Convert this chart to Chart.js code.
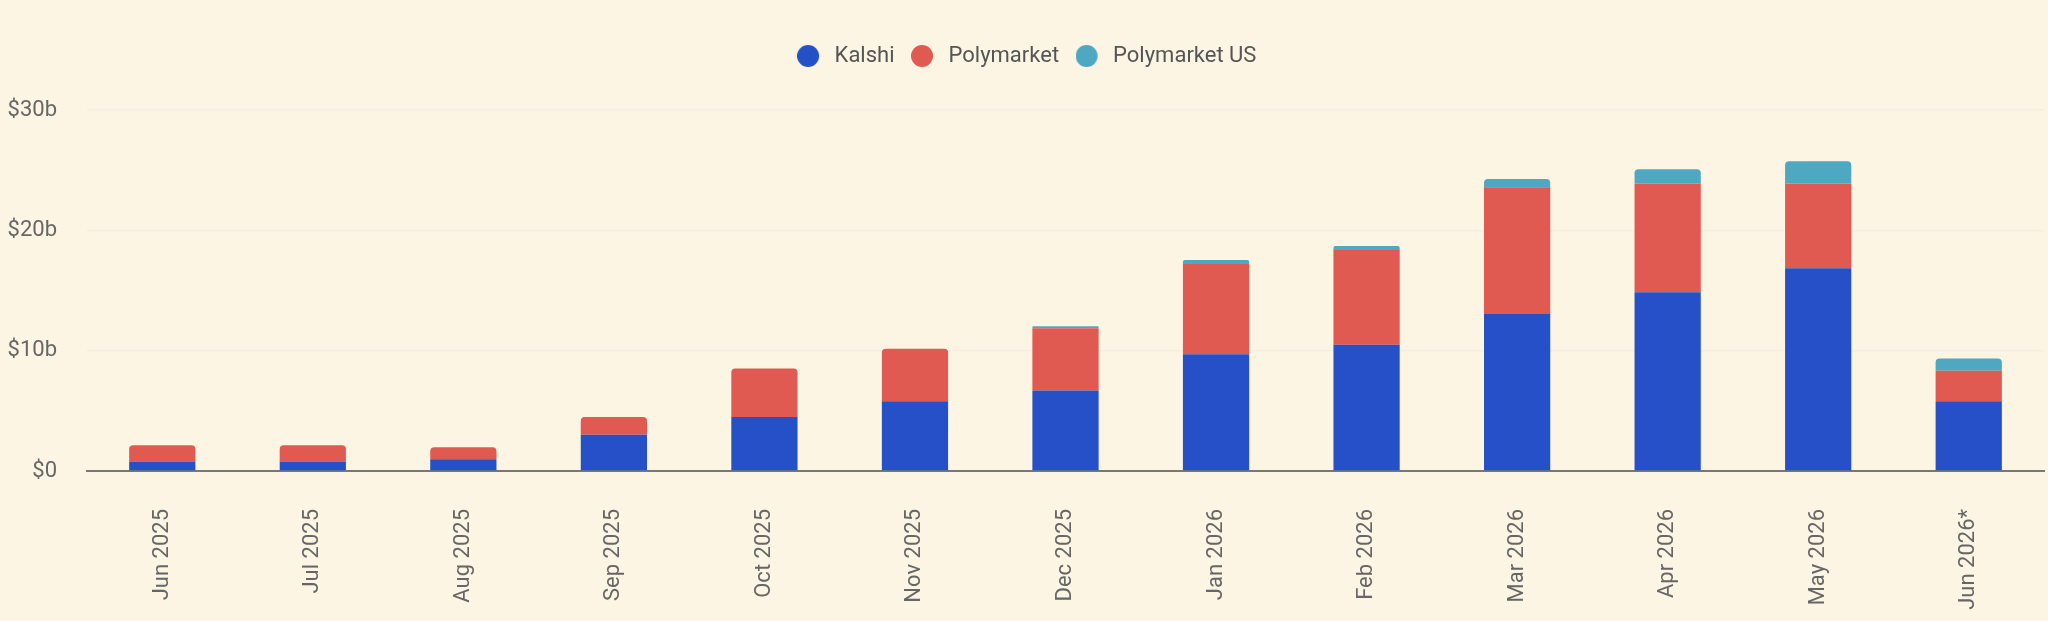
<!DOCTYPE html>
<html>
<head>
<meta charset="utf-8">
<script src="https://cdn.jsdelivr.net/npm/chart.js@4/dist/chart.umd.min.js"></script>
<style>
    html, body { margin: 0; padding: 0; background: #fcf5e4; }
    #wrap { width: 2048px; height: 621px; }
</style>
</head>
<body>
<div id="wrap"><canvas id="volumeChart" width="2048" height="621"></canvas></div>
<script>
// monthly volume, $ billions
const months = ['Jun 2025', 'Jul 2025', 'Aug 2025', 'Sep 2025', 'Oct 2025', 'Nov 2025', 'Dec 2025',
    'Jan 2026', 'Feb 2026', 'Mar 2026', 'Apr 2026', 'May 2026', 'Jun 2026*'];
const kalshi = [0.79, 0.79, 0.98, 3.02, 4.49, 5.8, 6.69, 9.7, 10.49, 13.05, 14.85, 16.85, 5.8];
const polymarket = [1.34, 1.34, 0.99, 1.47, 4.03, 4.36, 5.18, 7.51, 7.87, 10.52, 9.05, 7.05, 2.53];
const polymarketUS = [0, 0, 0, 0, 0, 0, 0.16, 0.33, 0.33, 0.69, 1.18, 1.84, 1.01];
const yTicks = [0, 10, 20, 30];

const colors = ['#2550c7', '#e05a52', '#4ea8c2'];

// legend dot drawn a bit left of its box, so the text sits further away
function legendDot(color) {
    const c = document.createElement('canvas');
    c.width = 31;
    c.height = 24;
    const g = c.getContext('2d');
    g.fillStyle = color;
    g.beginPath();
    g.arc(11, 12, 11, 0, Math.PI * 2);
    g.fill();
    return c;
}
const dots = colors.map(legendDot);

// push the plot down below the legend, nudge legend right a little
const legendTweak = {
    id: 'legendTweak',
    beforeInit(chart) {
        const lg = chart.legend;
        const fit = lg.fit;
        lg.fit = function () {
            fit.bind(lg)();
            this.height += 33;
        };
        const draw = lg.draw;
        lg.draw = function () {
            const ctx = chart.ctx;
            ctx.save();
            ctx.translate(7, 0);
            draw.apply(lg, arguments);
            ctx.restore();
        };
    }
};

Chart.defaults.font.family = 'Roboto, "Noto Sans", sans-serif';
Chart.defaults.font.size = 22;
Chart.defaults.color = '#666';

const barStyle = {
    borderRadius: 4,
    borderSkipped: 'start',
    borderWidth: 0,
    barPercentage: 0.44,
    categoryPercentage: 1
};

new Chart(document.getElementById('volumeChart'), {
    type: 'bar',
    data: {
        labels: months,
        datasets: [
            { label: 'Kalshi', data: kalshi, backgroundColor: colors[0], ...barStyle },
            { label: 'Polymarket', data: polymarket, backgroundColor: colors[1], ...barStyle },
            { label: 'Polymarket US', data: polymarketUS, backgroundColor: colors[2], ...barStyle }
        ]
    },
    options: {
        responsive: false,
        animation: false,
        devicePixelRatio: 1,
        layout: { padding: { top: 24, right: 4, bottom: 0, left: 0 } },
        plugins: {
            legend: {
                position: 'top',
                labels: {
                    usePointStyle: true,
                    boxWidth: 22,
                    boxHeight: 16,
                    padding: 21,
                    color: '#555',
                    generateLabels(chart) {
                        const items = Chart.defaults.plugins.legend.labels.generateLabels(chart);
                        items.forEach(it => { it.pointStyle = dots[it.datasetIndex]; });
                        return items;
                    }
                }
            },
            tooltip: { enabled: false }
        },
        scales: {
            x: {
                stacked: true,
                grid: { display: false, drawTicks: false },
                border: { display: true, color: '#777', width: 2 },
                ticks: { minRotation: 90, maxRotation: 90, padding: 38, color: '#666' },
                afterFit(scale) { scale.height = 150; }
            },
            y: {
                stacked: true,
                min: 0,
                max: 30,
                afterBuildTicks(scale) { scale.ticks = yTicks.map(v => ({ value: v })); },
                grid: { color: '#f4eee4', lineWidth: 1.5, drawTicks: false },
                border: { display: false },
                ticks: {
                    padding: 30,
                    color: '#666',
                    callback: v => '$' + v + (v === 0 ? '' : 'b')
                },
                afterFit(scale) { scale.width = 87; }
            }
        }
    },
    plugins: [legendTweak]
});
</script>
</body>
</html>
